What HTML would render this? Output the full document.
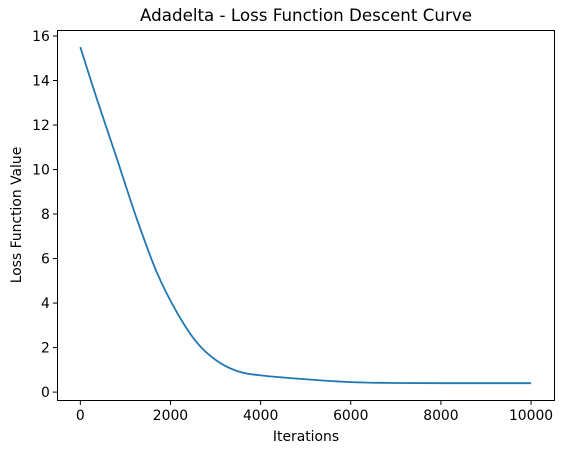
<!DOCTYPE html>
<html><head><meta charset="utf-8"><style>
body{margin:0;background:#fff;font-family:"Liberation Sans","DejaVu Sans",sans-serif}
text{font-family:"DejaVu Sans","Liberation Sans",sans-serif;fill:#000}
</style></head><body>
<svg id="chart" width="563" height="453" xmlns="http://www.w3.org/2000/svg">
<text x="306" y="21" font-size="16.7" text-anchor="middle">Adadelta - Loss Function Descent Curve</text>
<g id="xt"></g><g id="yt"></g>
<path id="line" fill="none" stroke="#1f77b4" stroke-width="1.8" stroke-linejoin="round"/>
<rect x="57.5" y="30.5" width="497" height="370" fill="none" stroke="#000" stroke-width="1"/>
<text x="306" y="441" font-size="13.9" text-anchor="middle">Iterations</text>
<text transform="translate(21,215) rotate(-90)" font-size="13.9" text-anchor="middle">Loss Function Value</text>
</svg>
<script>
const iterations=[0,370,815,1258,1701,2145,2588,3031,3475,4000,5030,6000,7000,8000,9000,10000];
const loss=[15.5,13.15,10.46,7.76,5.36,3.57,2.22,1.40,0.95,0.75,0.57,0.45,0.41,0.4,0.4,0.4];
const xTicks=[0,2000,4000,6000,8000,10000];
const yTicks=[0,2,4,6,8,10,12,14,16];
const L=57.8,R=553.6,T=30.3,B=400,xmin=-500,xmax=10500,ymin=-0.355,ymax=16.255;
const sx=v=>L+(v-xmin)/(xmax-xmin)*(R-L), sy=v=>B-(v-ymin)/(ymax-ymin)*(B-T);
const NS='http://www.w3.org/2000/svg';
const xt=document.getElementById('xt'),yt=document.getElementById('yt');
xTicks.forEach(t=>{const x=sx(t);
 const l=document.createElementNS(NS,'line');l.setAttribute('x1',x);l.setAttribute('x2',x);l.setAttribute('y1',B);l.setAttribute('y2',B+4.9);l.setAttribute('stroke','#000');
 
 
 xt.appendChild(l);
 const s=document.createElementNS(NS,'text');s.setAttribute('x',x);s.setAttribute('y',B+20);s.setAttribute('font-size','13.9');s.setAttribute('text-anchor','middle');s.textContent=t;
 
 
 xt.appendChild(s);});
yTicks.forEach(t=>{const y=sy(t);
 const l=document.createElementNS(NS,'line');l.setAttribute('x1',L-4.9);l.setAttribute('x2',L);l.setAttribute('y1',y);l.setAttribute('y2',y);l.setAttribute('stroke','#000');
 
 
 yt.appendChild(l);
 const s=document.createElementNS(NS,'text');s.setAttribute('x',L-8);s.setAttribute('y',y+5);s.setAttribute('font-size','13.9');s.setAttribute('text-anchor','end');s.textContent=t;
 
 
 yt.appendChild(s);});
const P=iterations.map((v,i)=>[sx(v),sy(loss[i])]);
let d='M'+P[0][0].toFixed(1)+','+P[0][1].toFixed(1);
for(let i=0;i<P.length-1;i++){const p0=P[i-1]||P[i],p1=P[i],p2=P[i+1],p3=P[i+2]||p2;
 const c1=[p1[0]+(p2[0]-p0[0])/6,p1[1]+(p2[1]-p0[1])/6],c2=[p2[0]-(p3[0]-p1[0])/6,p2[1]-(p3[1]-p1[1])/6];
 d+='C'+c1.map(n=>n.toFixed(1))+' '+c2.map(n=>n.toFixed(1))+' '+p2.map(n=>n.toFixed(1));}
document.getElementById('line').setAttribute('d',d);
</script>
</body></html>
